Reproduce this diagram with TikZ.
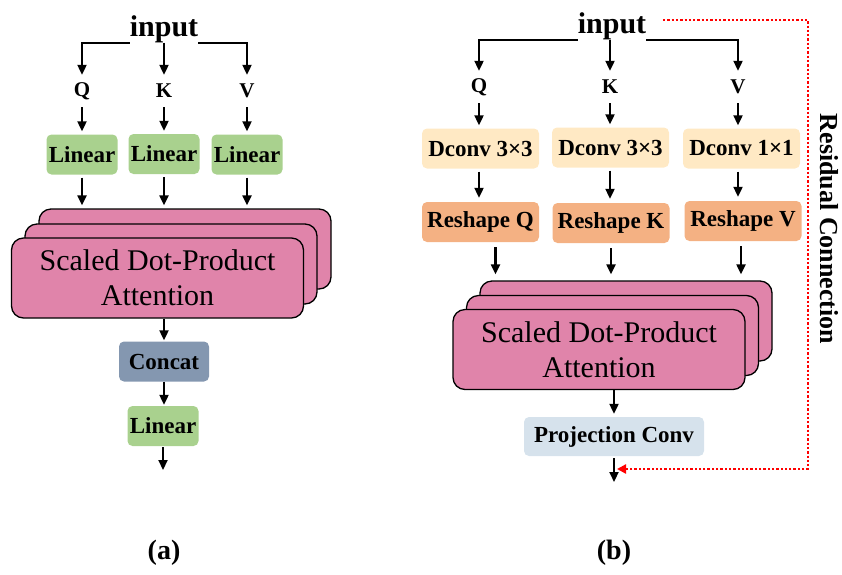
\documentclass[tikz,border=0pt]{standalone}
\usepackage{fontspec}
\setmainfont{Liberation Serif}
\usetikzlibrary{arrows.meta,positioning}
\definecolor{LinGreen}{HTML}{A9D18E}
\definecolor{CatBlue}{HTML}{8497B0}
\definecolor{AttPink}{HTML}{E084AA}
\definecolor{ConvCream}{HTML}{FFE9C4}
\definecolor{ShapeOrange}{HTML}{F4B183}
\definecolor{ProjBlue}{HTML}{D6E2EC}

\tikzset{
  arr/.style={-{Triangle[length=10pt,width=9pt]},line width=2.1pt},
  res/.style={-{Triangle[length=9pt,width=9pt]},line width=2.3pt,red,
    dash pattern=on 2.3pt off 2pt},
  inp/.style={font=\bfseries\fontsize{30}{32}\selectfont,inner sep=0pt,anchor=base},
  lbl/.style={font=\bfseries\fontsize{21}{23}\selectfont,inner sep=0pt,minimum height=32pt},
  blk/.style={rounded corners=5pt,font=\bfseries\fontsize{23}{25}\selectfont,
    inner xsep=2pt,minimum height=40pt},
  attbox/.style={draw,line width=1.3pt,fill=AttPink,rounded corners=12pt,
    minimum width=292pt,minimum height=80pt,align=center,
    font=\fontsize{30}{35}\selectfont},
  subcap/.style={font=\bfseries\fontsize{28}{30}\selectfont}
}

\begin{document}
\begin{tikzpicture}[x=1pt,y=-1pt]
  \useasboundingbox (0,0) rectangle (842,574);

  % (a) multi-head attention
  \node[inp] (inA) at (164,36) {input};
  \node[lbl] (qA) at (82,91) {Q};
  \node[lbl] (kA) at (164,91) {K};
  \node[lbl] (vA) at (247,91) {V};
  \node[blk,fill=LinGreen,minimum width=71pt] (linA1) at (82,154.5) {Linear};
  \node[blk,fill=LinGreen,minimum width=71pt] (linA2) at (164,154) {Linear};
  \node[blk,fill=LinGreen,minimum width=71pt] (linA3) at (247,154.5) {Linear};
  \node[attbox] (attA3) at (185,249) {};
  \node[attbox] (attA2) at (171,264) {};
  \node[attbox] (attA1) at (157.5,278) {Scaled Dot-Product\\Attention};
  \node[blk,fill=CatBlue,minimum width=90pt] (conA) at (164,361.5) {Concat};
  \node[blk,fill=LinGreen,minimum width=71pt] (linOA) at (163,426) {Linear};
  \coordinate (outA) at (163,470);
  \node[subcap] (capA) at (164,553) {(a)};

  \draw[arr] (inA.south west) -| (qA.north);
  \draw[arr] (inA.south) -- (kA.north);
  \draw[arr] (inA.south east) -| (vA.north);
  \draw[arr,shorten >=3pt] (qA) -- (linA1);
  \draw[arr,shorten >=3pt] (kA) -- (linA2);
  \draw[arr,shorten >=3pt] (vA) -- (linA3);
  \draw[arr,shorten <=3pt,shorten >=3pt] (linA1) -- (linA1 |- attA3.north);
  \draw[arr,shorten <=3pt,shorten >=3pt] (linA2) -- (linA2 |- attA3.north);
  \draw[arr,shorten <=3pt,shorten >=3pt] (linA3) -- (linA3 |- attA3.north);
  \draw[arr,shorten >=1pt] (conA.north |- attA1.south) -- (conA);
  \draw[arr,shorten >=1pt] (conA) -- (conA.south |- linOA.north);
  \draw[arr,shorten <=1pt] (outA |- linOA.south) -- (outA);

  % (b) conv-based attention
  \node[inp] (inB) at (612,33) {input};
  \node[lbl] (qB) at (479,87) {Q};
  \node[lbl] (kB) at (610,87) {K};
  \node[lbl] (vB) at (738,87) {V};
  \node[blk,fill=ConvCream,minimum width=117pt] (dcB1) at (480.5,148.5) {Dconv 3×3};
  \node[blk,fill=ConvCream,minimum width=117pt] (dcB2) at (610.5,147.5) {Dconv 3×3};
  \node[blk,fill=ConvCream,minimum width=117pt] (dcB3) at (741.5,148.5) {Dconv 1×1};
  \node[blk,fill=ShapeOrange,minimum width=117pt] (reB1) at (480.5,222) {Reshape Q};
  \node[blk,fill=ShapeOrange,minimum width=117pt] (reB2) at (611,223) {Reshape K};
  \node[blk,fill=ShapeOrange,minimum width=117pt] (reB3) at (743,221) {Reshape V};
  \node[attbox] (attB3) at (626,321) {};
  \node[attbox] (attB2) at (612.5,335.5) {};
  \node[attbox] (attB1) at (599,349.5) {Scaled Dot-Product\\Attention};
  \node[blk,fill=ProjBlue,minimum width=180pt,minimum height=39pt] (projB) at (614,436.5) {Projection Conv};
  \coordinate (outB) at (614,482);
  \node[subcap] (capB) at (614,553) {(b)};
  \node[font=\bfseries\fontsize{26}{28}\selectfont,rotate=-90] (resB) at (829,229) {Residual Connection};

  \draw[arr] (inB.south west) -| (qB.north);
  \draw[arr] (kB |- inB.south) -- (kB.north);
  \draw[arr] (inB.south east) -| (vB.north);
  \draw[arr,shorten >=3pt] (qB) -- (qB |- dcB1.north);
  \draw[arr,shorten >=3pt] (kB) -- (kB |- dcB2.north);
  \draw[arr,shorten >=3pt] (vB) -- (vB |- dcB3.north);
  \draw[arr,shorten <=3pt,shorten >=4pt] (qB |- dcB1.south) -- (qB |- reB1.north);
  \draw[arr,shorten <=3pt,shorten >=4pt] (kB |- dcB2.south) -- (kB |- reB2.north);
  \draw[arr,shorten <=3pt,shorten >=4pt] (vB |- dcB3.south) -- (vB |- reB3.north);
  \draw[arr,shorten <=5pt,shorten >=6pt] ([xshift=15pt]reB1.south) -- ([xshift=15pt]reB1.south |- attB3.north);
  \draw[arr,shorten <=5pt,shorten >=6pt] (reB2.south) -- (reB2.south |- attB3.north);
  \draw[arr,shorten <=5pt,shorten >=6pt] ([xshift=-2pt]reB3.south) -- ([xshift=-2pt]reB3.south |- attB3.north);
  \draw[arr,shorten >=3pt] (projB.north |- attB1.south) -- (projB);
  \draw[arr,shorten <=2pt] (projB) -- (outB);

  % residual path
  \coordinate (rcS) at (663,20);
  \coordinate (rcC) at (808,469);
  \coordinate (rcE) at (617,469);
  \draw[res] (rcS) -| (rcC) -- (rcE);
\end{tikzpicture}
\end{document}
